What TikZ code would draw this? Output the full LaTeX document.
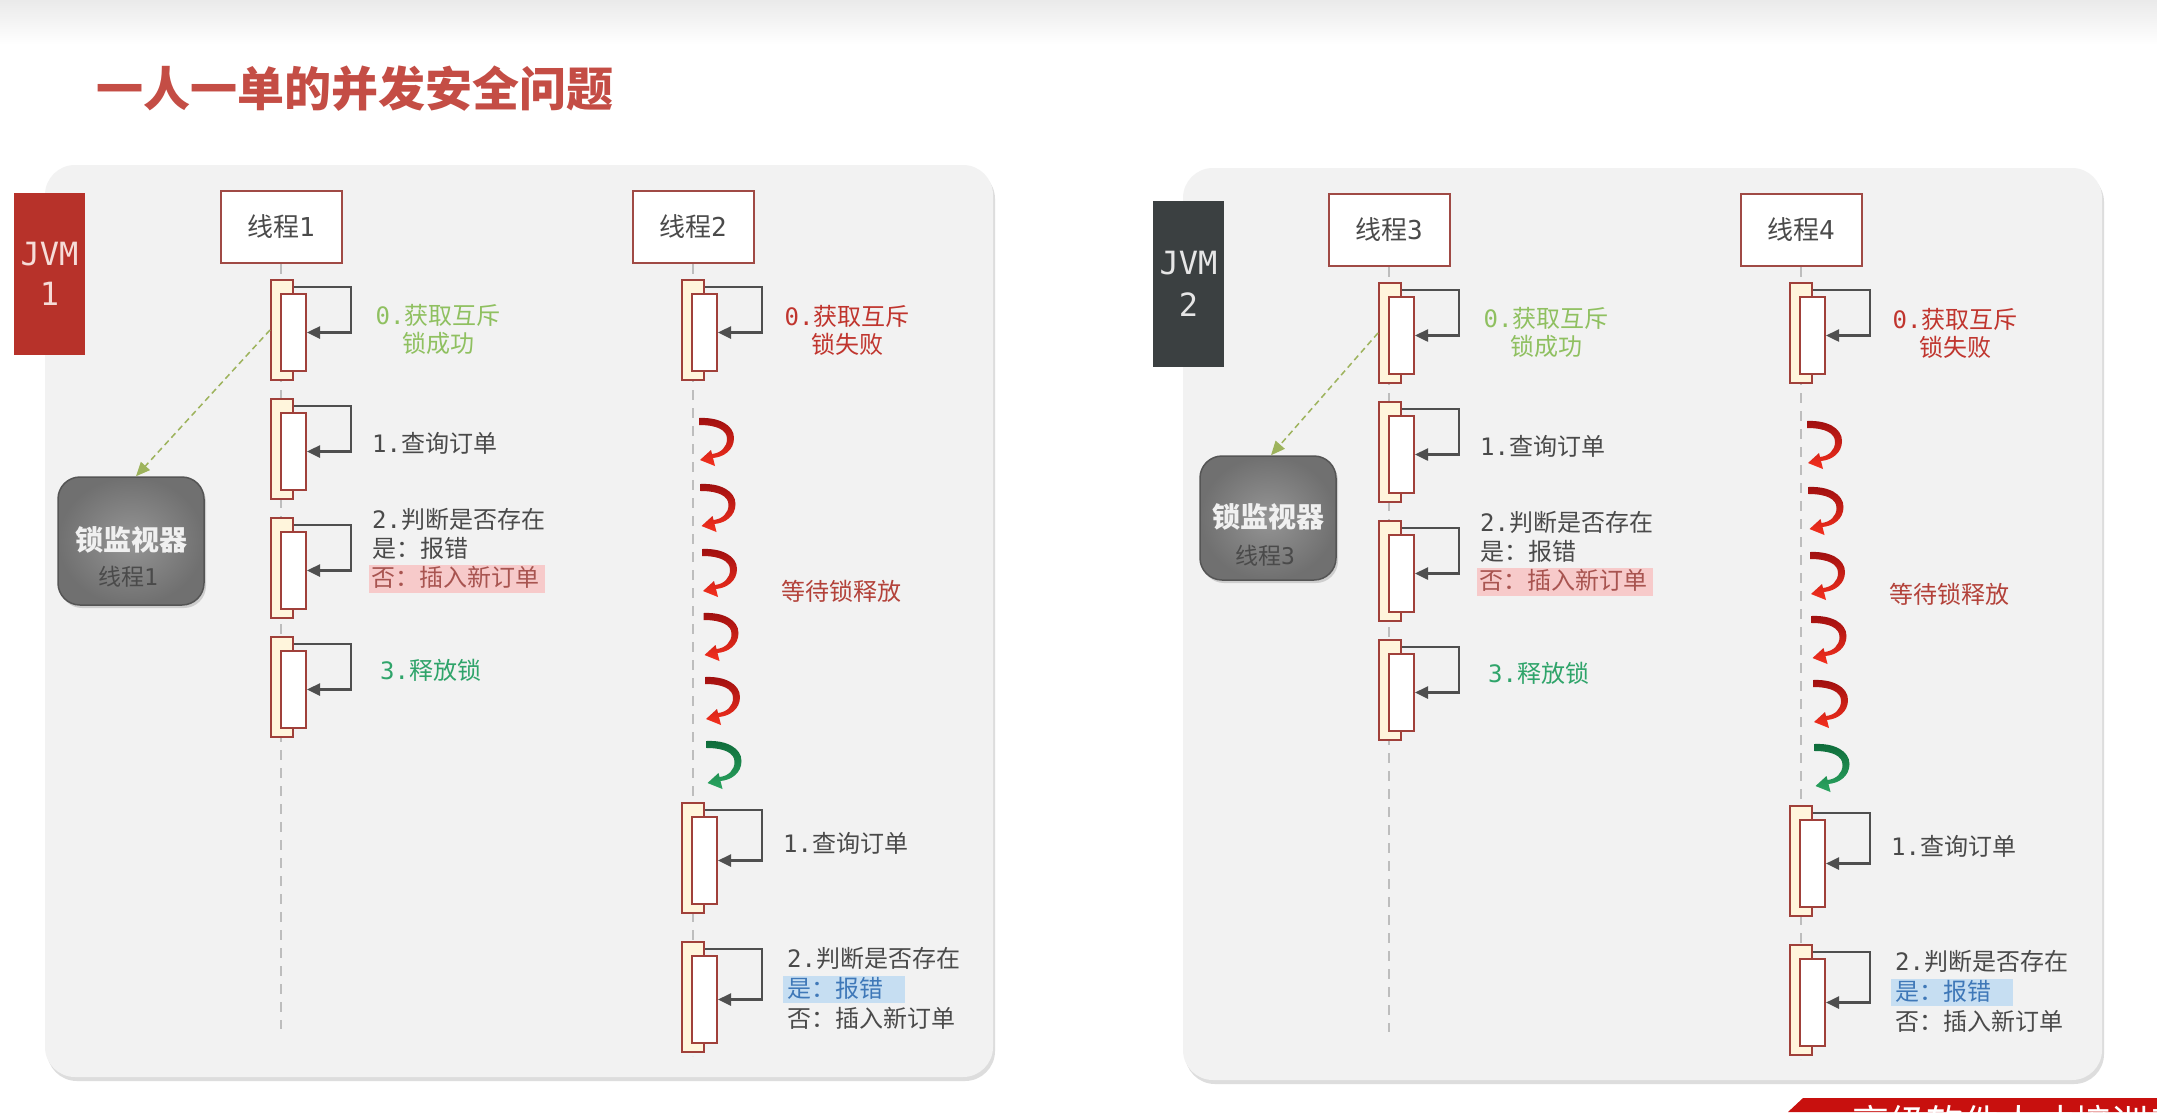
\documentclass[tikz,border=0pt]{standalone}
\usepackage{fontspec}
\setmainfont{Noto Sans CJK SC}
\newfontfamily\monof{DejaVu Sans Mono}
\usetikzlibrary{arrows.meta,shadows}
\definecolor{panelbg}{HTML}{F2F2F2}
\definecolor{topgray}{HTML}{EAEAEA}
\definecolor{boxred}{HTML}{A04A45}
\definecolor{actred}{HTML}{A0403A}
\definecolor{cream}{HTML}{FFF5DC}
\definecolor{loopgray}{HTML}{4F4F4F}
\definecolor{lifegray}{HTML}{BDBDBD}
\definecolor{txtgray}{HTML}{4A4A4A}
\definecolor{okgreen}{HTML}{8FC060}
\definecolor{relgreen}{HTML}{2FA46A}
\definecolor{failred}{HTML}{C0352E}
\definecolor{waitred}{HTML}{B3423A}
\definecolor{pinkhl}{HTML}{F7CACA}
\definecolor{pinktxt}{HTML}{A85450}
\definecolor{bluehl}{HTML}{C6DEF2}
\definecolor{bluetxt}{HTML}{3F78B8}
\definecolor{olive}{HTML}{9DB35C}
\definecolor{titlered}{HTML}{C44D45}
\definecolor{jvmred}{HTML}{B7322A}
\definecolor{jvmredtxt}{HTML}{F6DCD8}
\definecolor{jvmgray}{HTML}{3B4041}
\definecolor{jvmgraytxt}{HTML}{E6E6E6}
\definecolor{moninner}{HTML}{959595}
\definecolor{monouter}{HTML}{707070}
\definecolor{monborder}{HTML}{555555}
\definecolor{wrtop}{HTML}{9E0F0F}
\definecolor{wrbot}{HTML}{F5301E}
\definecolor{wgtop}{HTML}{0E6B3A}
\definecolor{wgbot}{HTML}{2BA561}
\definecolor{bannerred}{HTML}{C8100E}
\newcommand\mo[1]{{\monof #1}}
\newcommand\fs[2]{\fontsize{#1}{#2}\selectfont}
\tikzset{
  panel/.style={fill=panelbg, rounded corners=30pt, drop shadow={fill=black!60, opacity=0.22, shadow xshift=2pt, shadow yshift=-4pt}},
  jvm/.style={minimum width=71pt, inner sep=0, font=\monof\fs{32}{40}, align=center},
  thread/.style={draw=boxred, line width=2pt, fill=white, minimum width=121pt, minimum height=72pt, inner sep=0, font=\fs{26}{30}, text=txtgray},
  outerbox/.style={draw=actred, line width=2pt, fill=cream, minimum width=22pt, inner sep=0},
  innerbox/.style={draw=actred, line width=2pt, fill=white, minimum width=25pt, inner sep=0},
  selfloop/.style={draw=loopgray, line width=2.5pt, -{Triangle[length=13pt,width=12pt]}},
  lifeline/.style={draw=lifegray, line width=2pt, dash pattern=on 10pt off 8pt},
  lbl/.style={font=\fs{24}{29}, inner sep=0, text height=20pt, text depth=5pt, text=txtgray},
  lbltwo/.style={font=\fs{24}{28}, inner sep=0, align=center},
  monitor/.style={draw=monborder, line width=1.5pt, rounded corners=22pt, inner color=moninner, outer color=monouter, inner sep=0, drop shadow={fill=black!60, opacity=0.25, shadow xshift=2pt, shadow yshift=-3pt}},
  montitle/.style={font=\bfseries\fs{28}{32}, text=white!94!black, inner sep=0},
  monsub/.style={font=\fs{23}{26}, text=txtgray, inner sep=0},
  lockarrow/.style={draw=olive, line width=1.5pt, dash pattern=on 6pt off 4pt, -{Triangle[length=14pt,width=12pt]}}
}
\newcommand\actbox[4]{%
  \node[outerbox, minimum height={#4*1pt}, anchor=north] (#1o) at ({#2+1},{#3}) {};
  \node[innerbox, minimum height={(#4-23)*1pt}, anchor=north] (#1i) at ({#2+12.5},{#3+14}) {};
  \draw[selfloop] ([yshift=-8pt]#1o.north east) -| ([xshift=44pt]#1i.east) -- (#1i.east);
}
\newcommand\waitarrow[4]{%
  \shade[top color=#3, bottom color=#4, shift={({#1},{#2})}]
    (0,0) .. controls (20,-1) and (35,7) .. (35,20)
    .. controls (35,32) and (25,39) .. (14,40)
    -- (16,48) -- (1,42) -- (12,32) -- (13,36)
    .. controls (22,35) and (28,29) .. (28,21)
    .. controls (28,12) and (18,7) .. (0,7) -- cycle;
}
\newcommand\panelbody[3]{%
  \node[thread] (#1t1) at (281,227) {线程\mo{#2}};
  \node[thread] (#1t2) at (693,227) {线程\mo{#3}};
  \coordinate (#1e1) at (281,1029);
  \coordinate (#1e2) at (693,1056);
  \draw[lifeline] (#1t1.south) -- (#1e1);
  \draw[lifeline] (#1t2.south) -- (#1e2);
  \actbox{#1a0}{281}{279}{100}
  \actbox{#1a1}{281}{398}{100}
  \actbox{#1a2}{281}{517}{100}
  \actbox{#1a3}{281}{636}{100}
  \actbox{#1b0}{692}{279}{100}
  \actbox{#1b1}{692}{802}{110}
  \actbox{#1b2}{692}{941}{110}
  \node[lbltwo, text=okgreen] (#1l0) at (438,329) {\mo{0.}获取互斥\\锁成功};
  \node[lbl, anchor=west] (#1l1) at (372,445) {\mo{1.}查询订单};
  \node[lbl, anchor=west] (#1l2a) at (372,521) {\mo{2.}判断是否存在};
  \node[lbl, anchor=west] (#1l2b) at (372,550) {是：报错};
  \node[lbl, anchor=west, fill=pinkhl, text=pinktxt, inner xsep=2pt, inner ysep=1.5pt, text width=172pt, align=left] (#1l2c) at (369,579) {否：插入新订单};
  \node[lbl, anchor=west, text=relgreen] (#1l3) at (380,672) {\mo{3.}释放锁};
  \node[lbltwo, text=failred] (#1m0) at (847,330) {\mo{0.}获取互斥\\锁失败};
  \node[lbl, text=waitred] (#1w) at (841,593) {等待锁释放};
  \node[lbl, anchor=west] (#1m1) at (783,845) {\mo{1.}查询订单};
  \node[lbl, anchor=west] (#1m2a) at (787,960) {\mo{2.}判断是否存在};
  \node[lbl, anchor=west, fill=bluehl, text=bluetxt, inner xsep=4pt, inner ysep=1pt, text width=114pt, align=left] (#1m2b) at (783,989.5) {是：报错};
  \node[lbl, anchor=west] (#1m2c) at (787,1020) {否：插入新订单};
  \waitarrow{699}{418}{wrtop}{wrbot}
  \waitarrow{700.5}{484}{wrtop}{wrbot}
  \waitarrow{702}{549}{wrtop}{wrbot}
  \waitarrow{703.5}{613}{wrtop}{wrbot}
  \waitarrow{705}{677}{wrtop}{wrbot}
  \waitarrow{706.5}{741}{wgtop}{wgbot}
}
\begin{document}
\begin{tikzpicture}[x=1pt,y=-1pt]
\useasboundingbox (0,0) rectangle (2157,1112);
\fill[white] (0,0) rectangle (2157,1112);
\shade[top color=topgray, bottom color=white] (0,0) rectangle (2157,45);
\node[font=\bfseries\fs{47}{56}, text=titlered, anchor=west, inner sep=0] (title) at (96,89) {一人一单的并发安全问题};
% panels
\fill[panel] (45,165) rectangle (993,1077);
\fill[panel] (1183,168) rectangle (2102,1080);
% JVM labels
\node[jvm, fill=jvmred, text=jvmredtxt, minimum height=162pt] (jvm1) at (49.5,274) {JVM\\1};
\node[jvm, fill=jvmgray, text=jvmgraytxt, minimum height=166pt, font=\monof\fs{32}{42}] (jvm2) at (1188.5,284) {JVM\\2};
% panel contents
\panelbody{A}{1}{2}
\begin{scope}[shift={(1108,3)}]
\panelbody{B}{3}{4}
\end{scope}
% lock monitors
\node[monitor, minimum width=146pt, minimum height=128pt] (lm1) at (131,541) {};
\node[montitle] (lm1a) at (131,540) {锁监视器};
\node[monsub] (lm1b) at (128,577) {线程\mo{1}};
\node[monitor, minimum width=136pt, minimum height=124pt] (lm2) at (1268,518) {};
\node[montitle] (lm2a) at (1268,517) {锁监视器};
\node[monsub] (lm2b) at (1265,556) {线程\mo{3}};
\draw[lockarrow] (Aa0o.west) -- ([xshift=5pt]lm1.north);
\draw[lockarrow] (Ba0o.west) -- ([xshift=3pt]lm2.north);
% bottom banner
\fill[bannerred] (1788,1112) -- (1803,1098) -- (2157,1098) -- (2157,1112) -- cycle;
\begin{scope}
\clip (1788,1098) rectangle (2157,1112);
\node[text=white, font=\fs{37}{44}, anchor=north west, inner sep=0] (banner) at (1852,1105) {高级软件人才培训专家};
\end{scope}
\end{tikzpicture}
\end{document}
